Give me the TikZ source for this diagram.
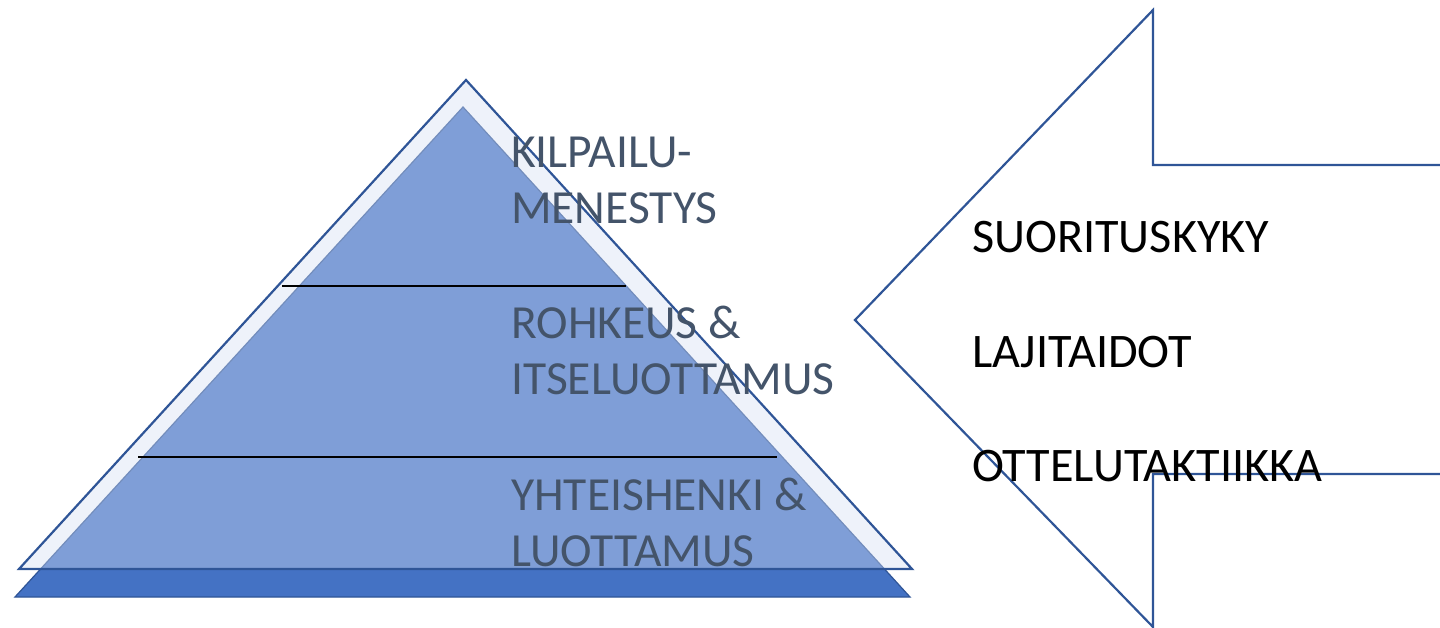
\documentclass[tikz,border=0pt]{standalone}
\usepackage{fontspec}
\setmainfont{Carlito}
\definecolor{edgeblue}{HTML}{2F5597}
\definecolor{midblue}{HTML}{4472C4}
\definecolor{paleblue}{HTML}{D5DFF3}
\definecolor{txtgray}{HTML}{44546A}
\tikzset{
  pyrtext/.style={anchor=base west, inner sep=0pt, text=txtgray, font=\fontsize{47.5}{56}\selectfont, align=left},
  armtext/.style={anchor=base west, inner sep=0pt, text=black, font=\fontsize{48.2}{57}\selectfont},
  divline/.style={draw=black, line width=1.6pt},
  outline/.style={draw=edgeblue, line width=2.2pt, line join=miter},
}
\begin{document}
\begin{tikzpicture}[x=1pt,y=-1pt]
\useasboundingbox (0,0) rectangle (1440,628);
% inner solid triangle
\fill[midblue, draw=edgeblue, line width=1.2pt] (463,107) -- (15,597) -- (910,597) -- cycle;
% outer translucent triangle
\fill[paleblue, fill opacity=0.41] (466,80) -- (19,569) -- (912,569) -- cycle;
\draw[outline] (466,80) -- (19,569) -- (912,569) -- cycle;
% divider lines
\coordinate (d1l) at (282,286); \coordinate (d1r) at (626,286);
\coordinate (d2l) at (138,457); \coordinate (d2r) at (777,457);
\draw[divline] (d1l) -- (d1r);
\draw[divline] (d2l) -- (d2r);
% arrow
\draw[outline] (1440,165) -- (1153,165) -- (1153,10) -- (855,320) -- (1153,627) -- (1153,474) -- (1440,474);
% pyramid texts
\node[pyrtext] (t1) at (511,224) {KILPAILU-\\MENESTYS};
\node[pyrtext] (t2) at (511,394) {ROHKEUS \&\\ITSELUOTTAMUS};
\node[pyrtext] (t3) at (511,566) {YHTEISHENKI \&\\LUOTTAMUS};
% arrow texts
\node[armtext] (a1) at (972,253) {SUORITUSKYKY};
\node[armtext] (a2) at (972,367) {LAJITAIDOT};
\node[armtext] (a3) at (972,481) {OTTELUTAKTIIKKA};
\end{tikzpicture}
\end{document}
